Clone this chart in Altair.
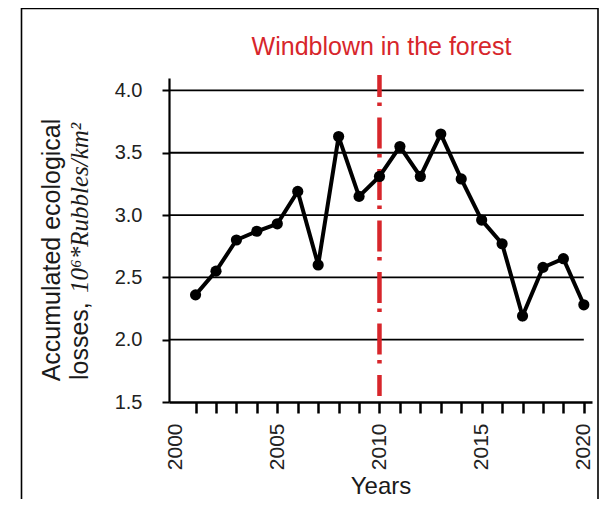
import altair as alt
import pandas as pd

years = list(range(2001, 2021))
losses = [2.36, 2.55, 2.80, 2.87, 2.93, 3.19, 2.60, 3.63, 3.15, 3.31,
          3.55, 3.31, 3.65, 3.29, 2.96, 2.77, 2.19, 2.58, 2.65, 2.28]
y_ticks = [1.5, 2.0, 2.5, 3.0, 3.5, 4.0]
grid_vals = [2.0, 2.5, 3.0, 3.5, 4.0]
x_ticks = list(range(2000, 2021))
event_year = [2010]
title_text = "Windblown in the forest"
ytitle_line1 = "Accumulated ecological"
ytitle_line2a = "losses,"
ytitle_line2b = "10\u2076*Rubbles/km\u00b2"
x_title = "Years"

df = pd.DataFrame({"year": years, "value": losses})
gdf = pd.DataFrame({"year": [1999.7] * len(grid_vals), "end": [2020] * len(grid_vals),
                    "value": grid_vals})
edf = pd.DataFrame({"year": event_year})
one = pd.DataFrame({"k": [0]})

SANS = "Liberation Sans"
SERIF = "Liberation Serif"
RED = "#d7262b"

xscale = alt.Scale(domain=[1999.7, 2020.4], nice=False, zero=False)
yscale = alt.Scale(domain=[1.5, 4.1], nice=False, zero=False)

xaxis = alt.Axis(
    values=x_ticks, format="d", title=x_title,
    labelExpr="datum.value % 5 === 0 ? datum.label : ''",
    labelAngle=270, labelFontSize=21, labelFont=SANS, labelColor="#222222",
    labelPadding=10, labelOverlap=False, labelFlush=False,
    tickSize=11, tickWidth=2.5, tickColor="black",
    tickOpacity={"condition": {"test": "datum.value == 2000", "value": 0}, "value": 1},
    domainColor="black", domainWidth=2.5, grid=False,
    titleFont=SANS, titleFontSize=24, titleFontWeight="normal", titleColor="#1a1a1a",
    titlePadding=5,
)
yaxis = alt.Axis(
    values=y_ticks, format=".1f", title="",
    labelFontSize=20, labelFont=SANS, labelColor="#222222", labelPadding=20,
    tickSize=7, tickWidth=2, tickColor="black",
    domainColor="black", domainWidth=2.2, grid=False,
)

X = alt.X("year:Q", scale=xscale, axis=xaxis, title=x_title)
Y = alt.Y("value:Q", scale=yscale, axis=yaxis, title="")

base = alt.Chart(df)

line = base.mark_line(color="black", strokeWidth=4).encode(x=X, y=Y)
points = base.mark_circle(color="black", size=125, opacity=1).encode(x=X, y=Y)
grid = alt.Chart(gdf).mark_rule(color="black", strokeWidth=1.8).encode(
    x=X, x2="end:Q", y=Y,
)
event = alt.Chart(edf).mark_rule(
    color=RED, strokeWidth=4.5, strokeDash=[31, 5.5, 3.5, 11.5], strokeDashOffset=9
).encode(
    x=X,
    y=alt.value(-3),
    y2=alt.value(318),
)
title = alt.Chart(one).mark_text(
    font=SANS, fontSize=25, color=RED, align="center", baseline="alphabetic"
).encode(x=alt.value(212.5), y=alt.value(-23), text=alt.value(title_text))

yt1 = alt.Chart(one).mark_text(
    font=SANS, fontSize=25, color="#1a1a1a", align="center", baseline="alphabetic", angle=270
).encode(x=alt.value(-109), y=alt.value(172), text=alt.value(ytitle_line1))
yt2a = alt.Chart(one).mark_text(
    font=SANS, fontSize=25, color="#1a1a1a", align="left", baseline="alphabetic", angle=270
).encode(x=alt.value(-81), y=alt.value(302), text=alt.value(ytitle_line2a))
yt2b = alt.Chart(one).mark_text(
    font=SERIF, fontSize=25, fontStyle="italic", color="#1a1a1a", align="left",
    baseline="alphabetic", angle=270
).encode(x=alt.value(-81), y=alt.value(215), text=alt.value(ytitle_line2b))

frame = alt.Chart(one).mark_rect(fill=None, stroke="black", strokeWidth=1.6).encode(
    x=alt.value(-147.5), y=alt.value(-69.5), x2=alt.value(429), y2=alt.value(440)
)

chart = alt.layer(grid, event, line, points, title, yt1, yt2a, yt2b, frame).properties(
    width=423, height=324,
    autosize=alt.AutoSizeParams(type="none"),
    padding={"left": 161, "top": 70, "right": 7, "bottom": 97},
    background="white",
).configure_view(stroke=None)

chart.save("out.html", embed_options={"renderer": "svg", "actions": False})
